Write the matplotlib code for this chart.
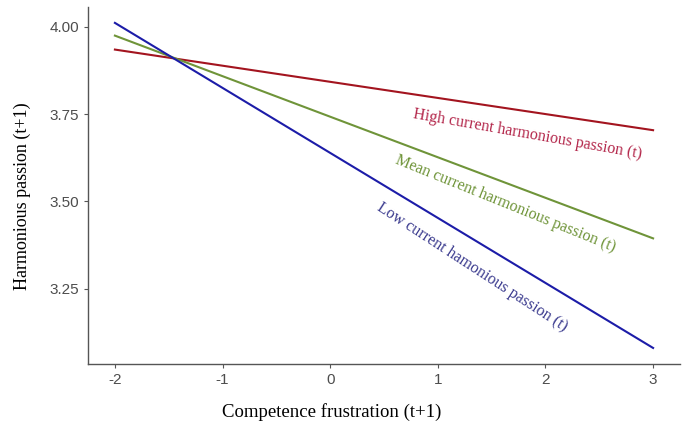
import matplotlib
matplotlib.use("Agg")
import matplotlib.pyplot as plt

# Data
x_vals = [-2, 3]
high_vals = [3.935, 3.704]
mean_vals = [3.975, 3.394]
low_vals = [4.0115, 3.080]
x_ticks = [-2, -1, 0, 1, 2, 3]
y_ticks = [3.25, 3.50, 3.75, 4.00]
y_ticklabels = ["3.25", "3.50", "3.75", "4.00"]
labels = ["High current harmonious passion (t)",
          "Mean current harmonious passion (t)",
          "Low current hamonious passion (t)"]

W, H = 689, 437
fig = plt.figure(figsize=(W / 100, H / 100), dpi=100)
ax = fig.add_axes([88 / W, 1 - 364 / H, 592 / W, 357 / H])

ax.plot(x_vals, high_vals, color="#A3141F", lw=1.5)
ax.plot(x_vals, mean_vals, color="#6F9439", lw=1.5)
ax.plot(x_vals, low_vals, color="#1C1CA8", lw=1.5)

ax.set_xlim(-2.25, 3.25)
ax.set_ylim(3.034, 4.057)
ax.set_xticks(x_ticks)
ax.set_xticklabels([str(v) for v in x_ticks])
ax.set_yticks(y_ticks)
ax.set_yticklabels(y_ticklabels)

for s in ["top", "right"]:
    ax.spines[s].set_visible(False)
for s in ["left", "bottom"]:
    ax.spines[s].set_color("#555555")
    ax.spines[s].set_linewidth(1.0)
ax.tick_params(colors="#555555", labelcolor="#4D4D4D", length=3, width=0.8,
               labelsize=11)
for t in ax.get_xticklabels() + ax.get_yticklabels():
    t.set_family("Liberation Sans")

serif = "Liberation Serif"
fig.text(332 / W, 1 - 412 / H, "Competence frustration (t+1)", family=serif,
         fontsize=13.5, ha="center", va="center", color="black")
fig.text(22 / W, 1 - 196 / H, "Harmonious passion (t+1)", family=serif,
         fontsize=13, ha="center", va="center", rotation=90, color="black")

ax.text(1.83, 3.693, labels[0], color="#B3264A", family=serif, fontsize=11.5,
        rotation=-10, rotation_mode="anchor", ha="center", va="center")
ax.text(1.626, 3.494, labels[1], color="#6F9439", family=serif, fontsize=11.5,
        rotation=-22, rotation_mode="anchor", ha="center", va="center")
ax.text(1.318, 3.310, labels[2], color="#3A3A8E", family=serif, fontsize=11.5,
        rotation=-33, rotation_mode="anchor", ha="center", va="center")

fig.savefig("out.png", dpi=100, facecolor="white")
